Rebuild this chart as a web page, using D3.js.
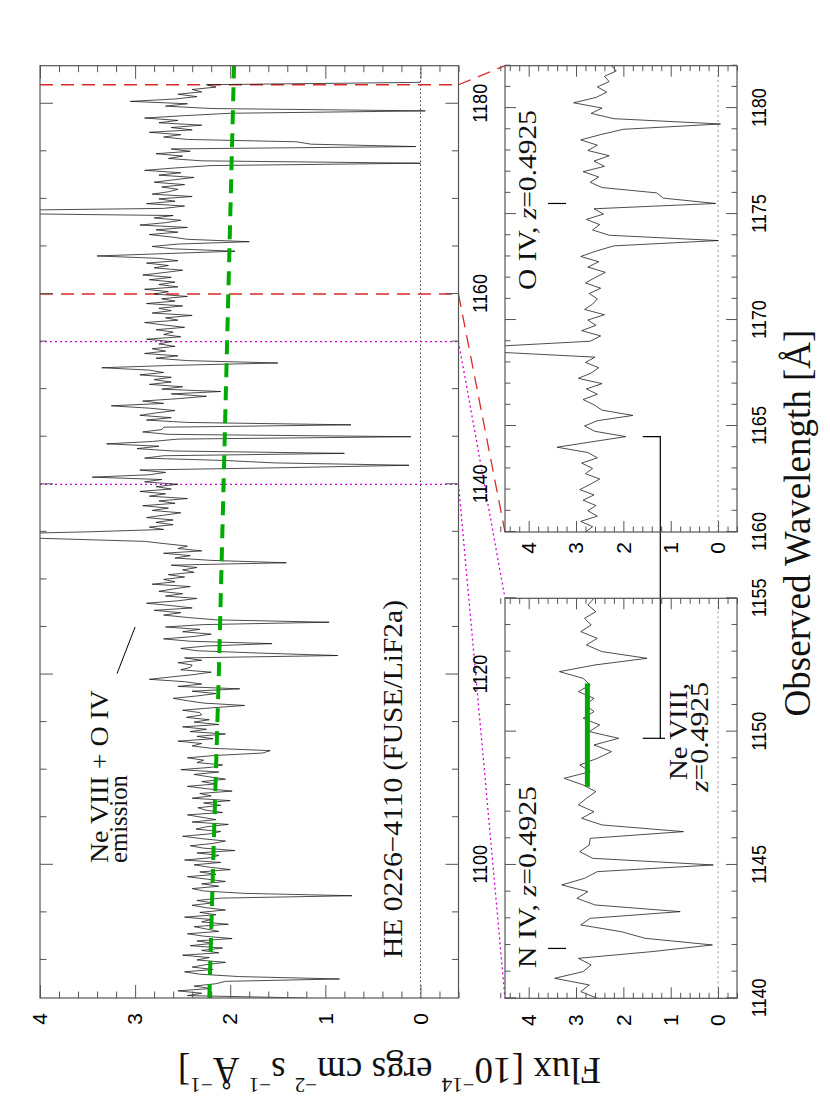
<!DOCTYPE html>
<html>
<head>
<meta charset="utf-8">
<script src="https://cdn.jsdelivr.net/npm/d3@7"></script>
<style>
  body { margin: 0; background: #fff; }
  svg { display: block; }
</style>
</head>
<body>
<div id="chart"></div>
<script>
// FUSE spectrum, 0.25 A bins starting at 1086.0 A (flux in 1e-14 units)
const waveStart = 1086.0;
const waveStep = 0.25;
const flux = [
  1.20, 2.45, 2.30, 2.55, 2.20, 2.38, 2.15, 2.05, 0.85, 1.90, 2.32, 2.48, 2.18, 2.40, 2.26, 2.05, 2.35, 2.22, 2.50, 2.12,
  2.30, 2.08, 2.42, 2.18, 2.35, 1.98, 2.28, 2.45, 2.12, 2.25, 2.38, 2.02, 2.30, 2.20, 2.48, 2.15, 2.32, 2.05, 2.26, 2.40,
  2.18, 2.35, 2.10, 0.72, 1.85, 2.28, 2.40, 2.12, 2.30, 2.05, 2.25, 2.45, 2.15, 2.32, 2.00, 2.22, 2.38, 2.10, 2.48, 2.20,
  2.12, 2.35, 1.95, 2.28, 2.42, 2.18, 2.05, 2.30, 2.50, 2.22, 2.10, 2.36, 2.25, 2.02, 2.40, 2.15, 2.30, 2.45, 2.08, 2.26,
  2.34, 2.10, 2.28, 2.00, 2.40, 2.20, 2.32, 1.98, 2.25, 2.45, 2.15, 2.30, 2.05, 2.22, 2.38, 2.12, 2.52, 2.20, 2.08, 2.35,
  2.28, 2.45, 2.15, 1.66, 1.58, 2.20, 2.40, 2.30, 2.55, 2.18, 2.35, 2.05, 2.42, 2.25, 2.50, 2.12, 2.38, 2.22, 2.46, 2.30,
  2.32, 2.50, 2.20, 1.85, 2.28, 2.45, 2.60, 2.35, 2.15, 2.40, 1.90, 2.55, 2.30, 2.48, 2.85, 2.62, 2.38, 2.20, 2.52, 2.42,
  2.40, 2.55, 2.30, 2.48, 0.87, 1.67, 2.35, 2.52, 2.25, 1.56, 2.42, 2.70, 2.38, 2.20, 2.50, 2.32, 2.68, 2.28, 0.96, 2.15,
  2.45, 2.70, 2.52, 2.80, 2.40, 2.62, 2.88, 2.55, 2.35, 2.68, 2.50, 2.75, 2.60, 2.42, 2.82, 2.58, 2.70, 2.48, 2.65, 2.38,
  2.50, 2.35, 2.62, 1.41, 2.20, 2.58, 2.42, 2.70, 2.30, 2.55, 2.45, 2.68, 2.90, 3.75, 4.60, 4.60, 3.50, 2.70, 2.85, 2.60,
  2.78, 2.60, 2.88, 2.70, 2.52, 2.82, 2.65, 2.92, 2.58, 2.75, 2.45, 2.85, 2.68, 2.95, 2.62, 2.78, 2.55, 2.90, 2.72, 3.45,
  2.85, 2.68, 2.95, 1.40, 0.12, 1.54, 2.05, 2.90, 2.70, 0.80, 2.60, 2.98, 2.75, 3.30, 2.82, 2.55, 0.10, 2.65, 2.92, 2.72,
  2.70, 0.73, 2.45, 2.88, 2.62, 2.95, 2.78, 2.58, 2.85, 3.25, 2.70, 2.92, 2.55, 2.25, 2.62, 2.10, 2.72, 2.50, 2.85, 2.62,
  2.80, 2.62, 2.95, 2.70, 2.85, 3.35, 2.60, 1.50, 2.45, 2.78, 2.55, 2.90, 2.68, 2.82, 2.58, 2.75, 2.62, 2.88, 2.52, 2.70,
  2.60, 2.78, 2.48, 2.70, 2.90, 2.55, 2.68, 2.40, 2.82, 2.62, 2.75, 2.50, 2.88, 2.58, 2.72, 2.45, 2.80, 2.65, 2.90, 2.55,
  2.75, 2.58, 2.85, 2.62, 2.92, 2.70, 2.50, 2.80, 2.65, 2.88, 2.55, 2.75, 3.40, 2.68, 1.95, 2.60, 2.82, 2.55, 1.80, 2.45,
  2.62, 2.85, 2.55, 2.78, 2.45, 2.95, 2.68, 2.52, 2.80, 2.60, 4.80, 4.80, 2.70, 2.48, 2.88, 2.58, 2.75, 2.40, 2.82, 2.65,
  2.55, 2.72, 2.48, 2.80, 2.60, 2.38, 2.75, 2.52, 2.90, 2.58, 2.20, 0.00, 2.30, 2.65, 2.50, 2.78, 2.42, 2.62, 0.05, 1.15,
  1.30, 2.45, 2.70, 2.52, 2.85, 2.40, 2.62, 2.30, 2.75, 2.55, 2.90, 2.48, 2.00, -0.05, 2.20, 2.68, 2.45, 3.05, 2.58, 2.35,
  2.55, 2.30, 2.40, 2.15, 2.25, 0.00
];

// continuum fit (green dashed) in the big panel
const contWave = [1086, 1100, 1120, 1140, 1160, 1184];
const contFlux = [2.22, 2.18, 2.12, 2.07, 2.02, 1.96];

// Ne VIII continuum segment in the N IV panel
const nevFitWave = [1147.93, 1151.81];
const nevFitFlux = 2.76;

// zoom windows marked in the big panel
const zoomRed = [1160, 1182];
const zoomMag = [1140, 1155];

// small line markers: N IV and O IV
const markerWave = [1141.87, 1175.5];
const markerFlux = [3.21, 3.59];

// Ne VIII doublet bracket (N IV panel, O IV panel)
const neviiiWave = [1149.75, 1164.5];
const bracketFlux = [1.22, 1.59, 1.12];

// emission pointer (wavelength, flux)
const pointer = [[1125.0, 3.0], [1120.1, 3.19]];

// ticks
const mainWlMajor = [1100, 1120, 1140, 1160, 1180];
const nivWlMajor = [1140, 1145, 1150, 1155];
const oivWlMajor = [1160, 1165, 1170, 1175, 1180];
const fluxMajor = [0, 1, 2, 3, 4];

const W = 830, H = 1111;
const svg = d3.select("#chart").append("svg").attr("width", W).attr("height", H);
// drawn landscape, then turned a quarter turn counter-clockwise
const root = svg.append("g").attr("transform", `translate(0,${H}) rotate(-90)`);

const spec = flux.map((f, i) => [waveStart + i * waveStep, f]);

const panels = {
  main: { x0: 113, x1: 1045.3, y0: 40, y1: 458.5, wl: [1086, 1184], fl: [-0.4, 4] },
  niv:  { x0: 112.7, x1: 512.7, y0: 505, y1: 737, wl: [1140, 1155], fl: [-0.4, 4.5] },
  oiv:  { x0: 579, x1: 1045.3, y0: 505, y1: 737, wl: [1160, 1182], fl: [-0.4, 4.5] }
};
Object.entries(panels).forEach(([k, p]) => {
  p.x = d3.scaleLinear().domain(p.wl).range([p.x0, p.x1]);
  p.y = d3.scaleLinear().domain(p.fl).range([p.y1, p.y0]);
  p.clip = "clip-" + k;
  svg.append("defs").append("clipPath").attr("id", p.clip)
    .append("rect").attr("x", p.x0).attr("y", p.y0)
    .attr("width", p.x1 - p.x0).attr("height", p.y1 - p.y0);
});
const main = panels.main, niv = panels.niv, oiv = panels.oiv;

const serif = "'Liberation Serif', 'Times New Roman', serif";
const sans = "'Liberation Sans', Arial, sans-serif";

// zero lines
[main, niv, oiv].forEach(p => {
  root.append("line")
    .attr("x1", p.x0).attr("x2", p.x1)
    .attr("y1", p.y(0)).attr("y2", p.y(0))
    .attr("stroke", p === main ? "#222" : "#888")
    .attr("stroke-width", 0.9)
    .attr("stroke-dasharray", p === main ? "1.5,2.5" : "2,3");
});

// zoom window lines and connectors
function zoomLine(w, target, color, dash) {
  root.append("line")
    .attr("x1", main.x(w)).attr("x2", main.x(w))
    .attr("y1", main.y0).attr("y2", main.y1)
    .attr("stroke", color).attr("stroke-width", 1.3).attr("stroke-dasharray", dash);
  root.append("line")
    .attr("x1", main.x(w)).attr("y1", main.y1)
    .attr("x2", target.x(w)).attr("y2", target.y0)
    .attr("stroke", color).attr("stroke-width", 1.3).attr("stroke-dasharray", dash);
}
zoomRed.forEach(w => zoomLine(w, oiv, "#dd2a2a", "13,8"));
zoomMag.forEach(w => zoomLine(w, niv, "#d400d4", "2,3"));

// spectra
[main, niv, oiv].forEach(p => {
  const line = d3.line()
    .x(d => p.x(d[0])).y(d => p.y(d[1]));
  root.append("path")
    .datum(spec.filter(d => d[0] >= p.wl[0] - 0.5 && d[0] <= p.wl[1] + 0.5))
    .attr("clip-path", `url(#${p.clip})`)
    .attr("d", line)
    .attr("fill", "none")
    .attr("stroke", "#111")
    .attr("stroke-width", 0.75);
});

// continuum fit
root.append("path")
  .datum(contWave.map((w, i) => [w, contFlux[i]]))
  .attr("clip-path", `url(#${main.clip})`)
  .attr("d", d3.line().x(d => main.x(d[0])).y(d => main.y(d[1])))
  .attr("fill", "none")
  .attr("stroke", "#00aa00")
  .attr("stroke-width", 4)
  .attr("stroke-dasharray", "14,9");

root.append("line")
  .attr("x1", niv.x(nevFitWave[0])).attr("x2", niv.x(nevFitWave[1]))
  .attr("y1", niv.y(nevFitFlux)).attr("y2", niv.y(nevFitFlux))
  .attr("stroke", "#00aa00").attr("stroke-width", 5);

// markers
[niv, oiv].forEach((p, i) => {
  root.append("line")
    .attr("x1", p.x(markerWave[i])).attr("x2", p.x(markerWave[i]))
    .attr("y1", p.y(markerFlux[0])).attr("y2", p.y(markerFlux[1]))
    .attr("stroke", "#000").attr("stroke-width", 1.2);
});

// Ne VIII bracket across the two small panels
const bx0 = niv.x(neviiiWave[0]), bx1 = oiv.x(neviiiWave[1]);
root.append("path")
  .attr("d", `M${bx1},${oiv.y(bracketFlux[1])}L${bx1},${oiv.y(bracketFlux[0])}L${bx0},${niv.y(bracketFlux[0])}`)
  .attr("fill", "none").attr("stroke", "#000").attr("stroke-width", 1.2);
root.append("line")
  .attr("x1", bx0).attr("x2", bx0)
  .attr("y1", niv.y(bracketFlux[2])).attr("y2", niv.y(bracketFlux[1]))
  .attr("stroke", "#000").attr("stroke-width", 1.2);

// emission pointer
root.append("line")
  .attr("x1", main.x(pointer[0][0])).attr("y1", main.y(pointer[0][1]))
  .attr("x2", main.x(pointer[1][0])).attr("y2", main.y(pointer[1][1]))
  .attr("stroke", "#000").attr("stroke-width", 1);

// frames and ticks
function axes(p, o) {
  const style = s => {
    s.select(".domain").remove();
    s.selectAll(".tick line").attr("stroke", "#555").attr("stroke-width", 1);
    s.attr("font-family", sans).attr("font-size", 21);
    s.selectAll(".tick text").attr("fill", "#000");
  };
  const fluxMinor = d3.range(-2, Math.round(p.fl[1] * 5) + 1).map(i => i / 5)
    .filter(v => Math.abs(v - Math.round(v)) > 1e-6);
  const wlMinor = d3.range(Math.ceil(p.wl[0] / o.minStep) * o.minStep, p.wl[1] + 0.001, o.minStep)
    .filter(v => !o.wlMajor.includes(v));

  const b = root.append("g").attr("transform", `translate(0,${p.y1})`);
  b.append("g").call(d3.axisBottom(p.x).tickValues(wlMinor).tickSize(-o.minor).tickFormat("")).call(style);
  b.append("g").call(d3.axisBottom(p.x).tickValues(o.wlMajor).tickSize(-o.major)
      .tickPadding(o.padB).tickFormat(d3.format("d"))).call(style)
    .selectAll(".tick text").attr("textLength", 39).attr("lengthAdjust", "spacingAndGlyphs");

  const t = root.append("g").attr("transform", `translate(0,${p.y0})`);
  t.append("g").call(d3.axisTop(p.x).tickValues(wlMinor).tickSize(-o.minor).tickFormat("")).call(style);
  t.append("g").call(d3.axisTop(p.x).tickValues(o.wlMajor).tickSize(-o.major).tickFormat("")).call(style);

  const l = root.append("g").attr("transform", `translate(${p.x0},0)`);
  l.append("g").call(d3.axisLeft(p.y).tickValues(fluxMinor).tickSize(-o.minor).tickFormat("")).call(style);
  l.append("g").call(d3.axisLeft(p.y).tickValues(fluxMajor).tickSize(-o.major)
      .tickPadding(o.padL).tickFormat(d3.format("d"))).call(style);

  const r = root.append("g").attr("transform", `translate(${p.x1},0)`);
  r.append("g").call(d3.axisRight(p.y).tickValues(fluxMinor).tickSize(-o.minor).tickFormat("")).call(style);
  r.append("g").call(d3.axisRight(p.y).tickValues(fluxMajor).tickSize(-o.major).tickFormat("")).call(style);

  root.append("rect")
    .attr("x", p.x0).attr("y", p.y0)
    .attr("width", p.x1 - p.x0).attr("height", p.y1 - p.y0)
    .attr("fill", "none").attr("stroke", "#555").attr("stroke-width", 1.2);
}
axes(main, { wlMajor: mainWlMajor, minStep: 5, major: 13, minor: 6.5, padB: 14, padL: 15 });
axes(niv, { wlMajor: nivWlMajor, minStep: 1, major: 11, minor: 5.5, padB: 14, padL: 16 });
axes(oiv, { wlMajor: oivWlMajor, minStep: 1, major: 11, minor: 5.5, padB: 14, padL: 10 });

// labels
function label(x, y, parts, size, len, anchor) {
  const t = root.append("text")
    .attr("x", x).attr("y", y)
    .attr("font-family", serif).attr("font-size", size)
    .attr("fill", "#111")
    .attr("text-anchor", anchor || "start");
  if (len) t.attr("textLength", len).attr("lengthAdjust", "spacingAndGlyphs");
  parts.forEach(p => {
    const s = t.append("tspan").text(p.t);
    if (p.i) s.attr("font-style", "italic");
  });
  return t;
}
label(153, 402, [{ t: "HE 0226\u22124110 (FUSE/LiF2a)" }], 28, 358);
label(248, 108, [{ t: "Ne VIII + O IV" }], 26, 173);
label(248, 127, [{ t: "emission" }], 26, 88);
label(143, 536, [{ t: "N IV, " }, { t: "z", i: true }, { t: "=0.4925" }], 26, 182);
label(821, 536, [{ t: "O IV, " }, { t: "z", i: true }, { t: "=0.4925" }], 26, 180);
label(428, 687, [{ t: "Ne VIII," }], 26, 97, "end");
label(429, 708, [{ t: "z", i: true }, { t: "=0.4925" }], 26, 110, "end");

// axis titles
root.append("text")
  .attr("x", 588).attr("y", 810)
  .attr("text-anchor", "middle")
  .attr("font-family", serif).attr("font-size", 37).attr("fill", "#111")
  .text("Observed Wavelength [\u00c5]");

const yt = root.append("text")
  .attr("transform", "translate(53,389.5) rotate(-90)")
  .attr("text-anchor", "middle")
  .attr("font-family", serif).attr("font-size", 37).attr("fill", "#111");
const ytParts = [["Flux [10", 0], ["\u221214", 1], [" ergs cm", 0], ["\u22122", 1],
  [" s", 0], ["\u22121", 1], [" \u00c5", 0], ["\u22121", 1], ["]", 0]];
let raised = false;
ytParts.forEach(([s, sup]) => {
  const ts = yt.append("tspan").text(s);
  if (sup) { ts.attr("font-size", 21).attr("dy", -20); raised = true; }
  else if (raised) { ts.attr("dy", 20); raised = false; }
});
</script>
</body>
</html>
